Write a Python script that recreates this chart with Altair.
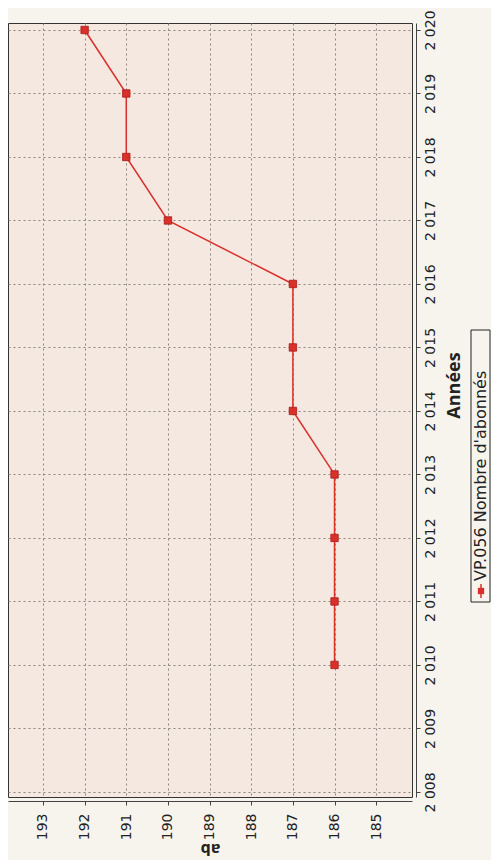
import altair as alt
import pandas as pd

years = [2010, 2011, 2012, 2013, 2014, 2015, 2016, 2017, 2018, 2019, 2020]
values = [186, 186, 186, 186, 187, 187, 187, 190, 191, 191, 192]
year_ticks = list(range(2008, 2021))
value_ticks = list(range(185, 194))
legend_label = "VP.056 Nombre d'abonnés"
x_title = "Années"
y_title = "ab"

df = pd.DataFrame({"year": years, "value": values})

RED = "#d9302a"

xenc = alt.X(
    "value:Q",
    scale=alt.Scale(domain=[184.14, 193.84], reverse=True, nice=False, zero=False),
    axis=alt.Axis(
        values=value_ticks, orient="bottom", offset=4, tickSize=4,
        labelAngle=270, labelAlign="right", labelBaseline="middle", labelPadding=8,
        labelFont="DejaVu Sans", labelFontSize=14, labelColor="#222",
        title=y_title, titleFont="Open Sans", titleFontSize=16, titleFontWeight="bold",
        titleAngle=180, titleBaseline="middle", titleAlign="center", titleY=47, titleColor="#222",
        grid=True, gridDash=[2, 3], gridColor="#8a8580", gridWidth=1,
        domainColor="#444", tickColor="#444",
    ),
)
yenc = alt.Y(
    "year:Q",
    scale=alt.Scale(domain=[2007.92, 2020.11], nice=False, zero=False),
    axis=alt.Axis(
        values=year_ticks, orient="right", offset=4, tickSize=4,
        labelAngle=270, labelAlign="center", labelBaseline="middle", labelPadding=10,
        labelExpr="substring(datum.value + '', 0, 1) + ' ' + substring(datum.value + '', 1)",
        labelFont="DejaVu Sans", labelFontSize=14, labelColor="#222",
        title=x_title, titleFont="Open Sans", titleFontSize=18, titleFontWeight="bold",
        titleAngle=270, titleBaseline="middle", titleAlign="center", titleX=38, titleY=362, titleColor="#222",
        grid=True, gridDash=[2, 3], gridColor="#8a8580", gridWidth=1,
        domainColor="#444", tickColor="#444",
    ),
)

base = alt.Chart(df)
line = base.mark_line(color=RED, strokeWidth=1.5).encode(x=xenc, y=yenc, order="year:Q")
pts = base.mark_point(shape="square", filled=True, size=55, color=RED, stroke="#a81c18", strokeWidth=0.8, opacity=1).encode(x=xenc, y=yenc)

leg_df = pd.DataFrame({"label": [legend_label]})
leg_base = alt.Chart(leg_df)
leg_box = leg_base.mark_rect(fillOpacity=0, stroke="#222", strokeWidth=1).encode(
    x=alt.value(463), x2=alt.value(482), y=alt.value(307), y2=alt.value(579))
leg_text = leg_base.mark_text(angle=270, align="left", baseline="middle", font="DejaVu Sans", fontSize=16, color="#222").encode(
    x=alt.value(473), y=alt.value(558), text="label:N")
leg_line = leg_base.mark_rule(color=RED, strokeWidth=1.5).encode(
    x=alt.value(473), y=alt.value(561), y2=alt.value(575))
leg_pt = leg_base.mark_point(shape="square", filled=True, size=40, color=RED, opacity=1).encode(
    x=alt.value(473), y=alt.value(568))

chart = alt.layer(line, pts, leg_box, leg_line, leg_pt, leg_text).properties(
    width=404, height=774,
    background="#f7f4ee",
    padding={"left": 0, "top": 15, "right": 79, "bottom": 63},
    autosize=alt.AutoSizeParams(type="none"),
).configure_view(fill="#f4e8e1", stroke="#333", strokeWidth=1)

chart.save("out.html", embed_options={"renderer": "svg", "actions": False})
